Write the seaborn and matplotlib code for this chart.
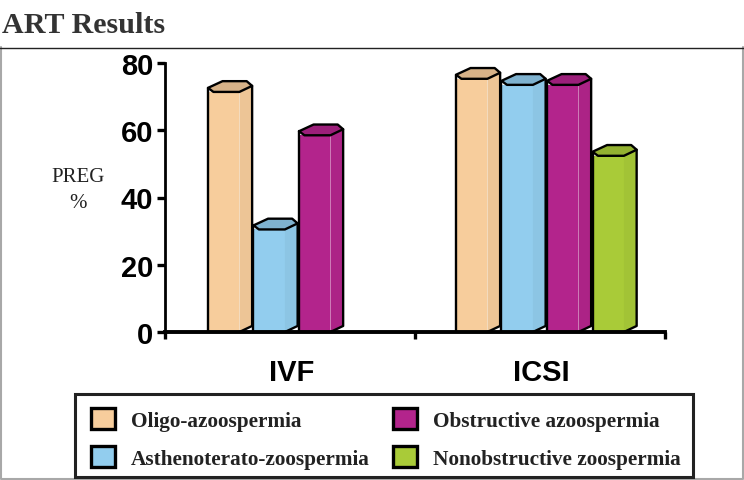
import matplotlib
matplotlib.use("Agg")
import matplotlib.pyplot as plt
import matplotlib.colors as mc
from matplotlib.lines import Line2D
from matplotlib.patches import Polygon, Rectangle
import pandas as pd
import seaborn as sns

categories = ["IVF", "ICSI"]
series = ["Oligo-azoospermia", "Asthenoterato-zoospermia",
          "Obstructive azoospermia", "Nonobstructive zoospermia"]
ivf_values = [71.4, 30.5, 58.5]
icsi_values = [75.3, 73.5, 73.5, 52.4]
colors = ["#F7CD9C", "#92CDEE", "#B3248C", "#A9CB38"]
title = "ART Results"

rows = [("IVF", s, v) for s, v in zip(series, ivf_values)] + \
       [("ICSI", s, v) for s, v in zip(series, icsi_values)]
df = pd.DataFrame(rows, columns=["method", "group", "preg"])

sns.set_theme(style="white")
W, H = 744, 481
fig = plt.figure(figsize=(W / 100, H / 100), dpi=100, facecolor="white")
L, R, T, B = 165, 665, 64, 333
ax = fig.add_axes([L / W, 1 - B / H, (R - L) / W, (B - T) / H])

sns.barplot(data=df, x="method", y="preg", hue="group", order=categories,
            hue_order=series, palette=colors, saturation=1, width=0.734,
            gap=0, errorbar=None, ax=ax, zorder=2)

ax.set_ylim(0, 80)
unit = 248
x0 = -134 / unit
ax.set_xlim(x0, x0 + (R - L) / unit)
ax.set_xlabel("")
ax.set_ylabel("")

# pseudo-3D column: front, side and top derived from each bar patch
lw = 1.7
for cont, col in zip(ax.containers, colors):
    rgb = mc.to_rgb(col)
    dark = mc.to_hex([c * 0.96 for c in rgb])
    darker = mc.to_hex([c * 0.87 for c in rgb])
    for p in cont.patches:
        h = p.get_height()
        if not h == h or h <= 0:
            continue
        x, w = p.get_x(), p.get_width()
        fw = 0.69 * w
        xr = x + 0.97 * w
        p.set_width(fw)
        p.set_edgecolor("none")
        ax.add_patch(Polygon([(x + fw, 0), (xr, 1.8), (xr, h + 1.8), (x + fw, h)],
                             closed=True, fc=dark, ec="none", zorder=3))
        ax.plot([x, x], [0, h + 1.2], color="black", lw=lw, zorder=4)
        ax.plot([x + fw, xr, xr], [0, 1.8, h + 1.8], color="black", lw=lw, zorder=4,
                solid_joinstyle="round")
        ax.add_patch(Polygon([(x, h + 1.2), (x + 0.32 * w, h + 3.2), (x + 0.85 * w, h + 3.2),
                              (xr, h + 1.8), (x + fw, h), (x + 0.12 * w, h)],
                             closed=True, fc=darker, ec="black", lw=lw, zorder=5,
                             joinstyle="round"))

for s in ("top", "right"):
    ax.spines[s].set_visible(False)
ax.spines["left"].set_linewidth(2.0)
ax.spines["bottom"].set_linewidth(2.8)
for s in ("left", "bottom"):
    ax.spines[s].set_color("black")
    ax.spines[s].set_zorder(6)

ax.set_yticks([0, 20, 40, 60, 80])
ax.tick_params(axis="y", left=True, length=5.5, width=2.4, color="black", pad=3, direction="out")
for t in ax.get_yticklabels():
    t.set_fontfamily("Liberation Sans")
    t.set_fontweight("bold")
    t.set_fontsize(21)
    t.set_color("black")

sep = [x0, x0 + 250 / unit, x0 + 500 / unit]
ax.set_xticks(sep)
ax.set_xticklabels([])
ax.tick_params(axis="x", bottom=True, length=5, width=2.4, color="black", direction="out")
ax.set_xticks([x0 + 127 / unit, x0 + 376 / unit], minor=True)
ax.set_xticklabels(categories, minor=True, fontfamily="Liberation Sans",
                   fontweight="bold", fontsize=21, color="black")
ax.tick_params(axis="x", which="minor", length=0, pad=19)

fig.text(78.5 / W, 1 - 178 / H, "PREG", family="Liberation Serif", fontsize=15,
         color="#222222", ha="center", va="center")
fig.text(78.5 / W, 1 - 203 / H, "%", family="Liberation Serif", fontsize=15,
         color="#222222", ha="center", va="center")
fig.text(2 / W, 1 - 33 / H, title, family="Liberation Serif", fontweight="bold",
         fontsize=21.7, color="#333333", ha="left", va="baseline")

# outer frame: black top rule, grey sides and bottom
grey = "#A8A8A8"
fig.add_artist(Line2D([1 / W, 1 / W, 743 / W, 743 / W],
                      [1 - 48 / H, 1 - 480 / H, 1 - 480 / H, 1 - 48 / H],
                      transform=fig.transFigure, color=grey, lw=1.5))
fig.add_artist(Line2D([0, 1], [1 - 48.5 / H, 1 - 48.5 / H],
                      transform=fig.transFigure, color="#222222", lw=1.0))

if ax.get_legend() is not None:
    ax.get_legend().remove()

# legend box drawn apart from its entries, so the padding can differ per side
fig.add_artist(Rectangle((75 / W, 1 - 478 / H), 618 / W, 83 / H, transform=fig.transFigure,
                         fc="white", ec="#222222", lw=2.2, zorder=2))
proxy = [Rectangle((0, 0), 1, 1, fc=c, ec="black", lw=2.4) for c in colors]
leg = fig.legend(proxy, series, ncol=2, loc="lower left",
                 bbox_to_anchor=(91 / W, 1 - 470 / H),
                 prop={"family": "Liberation Serif", "weight": "bold", "size": 15.3},
                 labelcolor="#222222", handlelength=1.15, handleheight=1.15,
                 handletextpad=0.72, columnspacing=1.1, labelspacing=0.72,
                 borderpad=0, borderaxespad=0, frameon=False)
leg.set_zorder(3)

fig.savefig("out.png", dpi=100)
